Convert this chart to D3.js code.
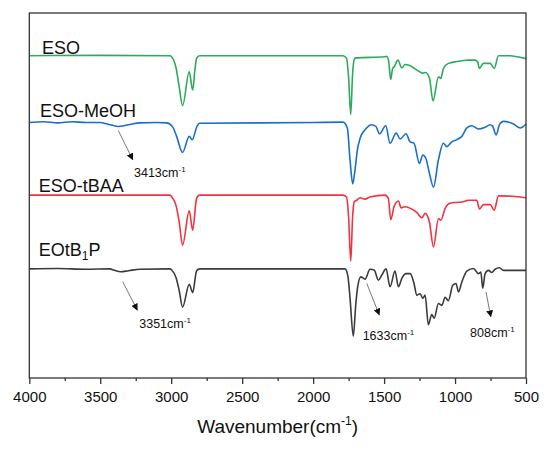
<!DOCTYPE html>
<html>
<head>
<meta charset="utf-8">
<script src="https://cdn.jsdelivr.net/npm/d3@7"></script>
<style>
  body { margin:0; background:#fff; }
  .plot-wrap { width:550px; height:449px; }
  text { font-family: "Liberation Sans", Arial, sans-serif; }
</style>
</head>
<body>
<div class="plot-wrap"></div>
<script>
// ---- data (wavenumber cm-1, relative transmittance a.u.) ----
var seriesNames = ['ESO', 'ESO-MeOH', 'ESO-tBAA', 'EOtB_1P'];
var seriesColors = ['#2eaa5e', '#1a6fcc', '#f2333f', '#3b3b3b'];
var seriesOffsets = [88.3, 70.0, 50.1, 29.9];

var esoData = [
  [4000,0],[3500,0.1],[3010,0],[2997,-0.3],[2965,-3.5],[2944,-8.5],[2920,-13.7],[2873,-4.4],[2849,-9.4],[2832,-3.5],[2821,-0.7],[2800,0],
  [1790,0],[1765,-0.7],[1750,-6],[1735,-16.1],[1722,-5],[1710,-1],[1700,-0.6],[1495,-0.3],[1480,-0.2],[1468,-1.5],[1453,-6.5],
  [1440,-3.5],[1428,-3.0],[1403,-1.2],[1375,-3.3],[1352,-2.4],[1320,-2.7],[1270,-3.9],[1240,-4.6],[1227,-4.8],[1208,-4.6],
  [1180,-6.2],[1155,-12.4],[1117,-5.8],[1100,-6.2],[1082,-3.5],[1047,-2.1],[987,-1.6],[952,-1.4],[906,-1.2],[858,-1.2],
  [840,-1.8],[828,-3.5],[800,-2.1],[753,-2.1],[724,-3.5],[694,0],[611,0],[560,-0.3],[500,-0.8]
];
var esoMeohData = [
  [4000,0],[3900,0.2],[3800,-0.1],[3700,0.2],[3600,0],[3503,0],[3450,-0.4],[3375,-1.1],[3300,-0.6],[3221,-0.1],[3100,0],
  [3032,-0.1],[2990,-1.2],[2962,-3.8],[2920,-8.2],[2873,-3.8],[2852,-4.7],[2818,-1.0],[2800,-0.2],[2000,0],[1790,0.1],
  [1759,-1.5],[1740,-10.2],[1721,-16.8],[1705,-13],[1688,-7.5],[1669,-4.3],[1634,-2.0],[1587,-0.6],[1557,-1.1],[1533,-3.1],
  [1488,-0.9],[1458,-5.7],[1415,-2.9],[1387,-4.5],[1345,-3.1],[1317,-5.3],[1289,-5.7],[1251,-11.2],[1227,-8.9],[1206,-9.8],
  [1181,-13.8],[1152,-17.7],[1117,-10.2],[1082,-5.7],[1058,-6.6],[1023,-5.3],[987,-4.7],[952,-3.8],[917,-1.5],[882,-0.9],
  [835,-1.8],[788,-1.3],[753,-0.6],[735,-1.0],[710,-3.4],[687,-0.6],[659,0.3],[588,-0.4],[541,-1.5],[500,-0.4]
];
var esoTbaaData = [
  [4000,0],[3500,0],[3010,0],[2995,-0.5],[2965,-3],[2944,-7.3],[2920,-13.7],[2873,-4.3],[2849,-9.6],[2821,-0.9],[2800,0],
  [1790,0],[1765,-0.5],[1750,-6],[1735,-18.1],[1722,-6],[1710,-1.8],[1693,-1.4],[1669,-0.7],[1634,-1.1],[1600,-0.5],
  [1493,0],[1470,-0.9],[1453,-6.7],[1430,-3.2],[1399,-1.6],[1380,-3.5],[1352,-3.2],[1317,-3.6],[1270,-4.7],[1234,-6.2],
  [1211,-5.0],[1181,-7.3],[1152,-14.2],[1117,-6.4],[1100,-6.9],[1070,-3.6],[1035,-2.2],[987,-2.0],[952,-1.9],[905,-1.4],
  [847,-1.4],[828,-3.8],[800,-2.6],[753,-2.6],[724,-4.1],[694,-0.2],[600,-0.3],[500,-0.7]
];
var eotb1pData = [
  [4000,0],[3800,0.1],[3600,-0.1],[3432,0],[3400,-0.4],[3357,-0.8],[3300,-0.5],[3221,-0.1],[3010,0],[2997,-0.3],
  [2965,-2.5],[2944,-5.9],[2920,-10.5],[2873,-4.2],[2849,-6.5],[2821,-0.5],[2800,0],[1775,0],[1755,-2],[1740,-8],
  [1717,-18.4],[1700,-10],[1688,-5.4],[1664,-2.2],[1634,-2.8],[1599,-0.1],[1570,-0.3],[1540,-3.1],[1516,-1.7],[1486,0],
  [1458,-4.9],[1423,-0.6],[1399,-4.9],[1375,-2.6],[1345,-1.3],[1317,-1.3],[1289,-4.0],[1270,-7.2],[1246,-6.8],[1227,-8.1],
  [1211,-7.2],[1188,-15.3],[1164,-12.5],[1147,-13.5],[1117,-9.5],[1093,-10],[1070,-7.8],[1047,-8.7],[1016,-4.5],[993,-4.0],
  [976,-6.3],[952,-3.6],[917,-0.6],[870,0.1],[835,-1.3],[818,-0.9],[805,-5.3],[788,-1.3],[765,-0.4],[741,-1.0],[718,-0.1],
  [687,0.3],[659,-0.4],[500,-0.4]
];

var xTicks = [4000, 3500, 3000, 2500, 2000, 1500, 1000, 500];
var xMinorTicks = [3750, 3250, 2750, 2250, 1750, 1250, 750];

// annotations: text, arrow start [wn, au], arrow end [wn, au], text anchor [wn, au]
var annoLabels = ['3413', '3351', '1633', '808'];
var annoFrom = [[3373,67.8],[3342,26.4],[1622,25.9],[782,23.6]];
var annoTo = [[3271,59.8],[3239,18.6],[1534,17.3],[748,16.8]];
var annoText = [[3262,55.2],[3225,13.6],[1651,10.4],[894,11.3]];

var SpectraChart = function(opts){
  this.element = opts.elem;
  this.series = opts.series;
}

SpectraChart.prototype.draw = function(){
  this.margin = {top:13, left:29.3, right:24, bottom:71};
  this.width = 550 - this.margin.left - this.margin.right;
  this.height = 449 - this.margin.top - this.margin.bottom;

  var svg = d3.select(this.element).append('svg')
    .attr('width', 550).attr('height', 449);
  svg.append('defs').append('marker')
    .attr('id', 'arrow').attr('viewBox', '0 0 10 10')
    .attr('refX', 9).attr('refY', 5)
    .attr('markerWidth', 7).attr('markerHeight', 7)
    .attr('markerUnits', 'userSpaceOnUse')
    .attr('orient', 'auto')
    .append('path').attr('d', 'M0,0 L10,5 L0,10 Z').attr('fill', '#111');

  this.plot = svg.append('g')
    .attr('transform', 'translate(' + this.margin.left + ',' + this.margin.top + ')');

  this.createScales();
  this.addLines();
  this.addLabels();
  this.addAnnotations();
  this.addAxis();
}

SpectraChart.prototype.createScales = function(){
  this.xScale = d3.scaleLinear().domain([4000, 500]).range([0, this.width]);
  this.yScale = d3.scaleLinear().domain([0, 100]).range([this.height, 0]);
}

SpectraChart.prototype.addLines = function(){
  var self = this;
  this.series.forEach(function(s){
    var line = d3.line()
      .x(function(d){ return self.xScale(d[0]); })
      .y(function(d){ return self.yScale(s.offset + d[1]); })
      .curve(d3.curveMonotoneX);
    self.plot.append('path')
      .attr('d', line(s.data))
      .attr('fill', 'none')
      .attr('stroke', s.color)
      .attr('stroke-width', 1.6)
      .attr('stroke-linejoin', 'round');
  });
}

SpectraChart.prototype.addLabels = function(){
  var self = this;
  var dx = [12.7, 10.7, 9.4, 9.4];
  var dy = [-1.7, -5.4, -2.7, -12.7];
  this.series.forEach(function(s, i){
    var t = self.plot.append('text')
      .attr('x', dx[i])
      .attr('y', self.yScale(s.offset) + dy[i])
      .attr('font-size', '18px')
      .attr('fill', '#111');
    var parts = s.name.split('_');
    t.append('tspan').text(parts[0]);
    if (parts.length > 1) {
      t.append('tspan').attr('font-size', '12px').attr('dy', 4).text(parts[1].charAt(0));
      t.append('tspan').attr('dy', -4).text(parts[1].slice(1));
    }
  });
}

SpectraChart.prototype.addAnnotations = function(){
  var self = this;
  annoLabels.forEach(function(lbl, i){
    self.plot.append('line')
      .attr('x1', self.xScale(annoFrom[i][0])).attr('y1', self.yScale(annoFrom[i][1]))
      .attr('x2', self.xScale(annoTo[i][0])).attr('y2', self.yScale(annoTo[i][1]))
      .attr('stroke', '#555').attr('stroke-width', 0.8)
      .attr('marker-end', 'url(#arrow)');
    var t = self.plot.append('text')
      .attr('x', self.xScale(annoText[i][0]))
      .attr('y', self.yScale(annoText[i][1]))
      .attr('font-size', '12.5px')
      .attr('fill', '#111');
    t.append('tspan').text(lbl + 'cm');
    t.append('tspan').attr('font-size', '8px').attr('dy', -5).text('-1');
  });
}

SpectraChart.prototype.addAxis = function(){
  var self = this;
  // frame
  this.plot.append('rect')
    .attr('x', 0).attr('y', 0)
    .attr('width', this.width).attr('height', this.height)
    .attr('fill', 'none').attr('stroke', '#333').attr('stroke-width', 1.3);

  var xAxis = d3.axisBottom(this.xScale)
    .tickValues(xTicks)
    .tickFormat(d3.format('d'))
    .tickSize(6).tickSizeOuter(0).tickPadding(7);
  var gx = this.plot.append('g')
    .attr('transform', 'translate(0,' + this.height + ')')
    .call(xAxis);
  gx.select('.domain').remove();
  gx.selectAll('.tick line').attr('stroke', '#333').attr('stroke-width', 1.3);
  gx.selectAll('.tick text')
    .attr('font-size', '15px').attr('fill', '#111')
    .attr('font-family', '"Liberation Sans", Arial, sans-serif');

  var minor = d3.axisBottom(this.xScale)
    .tickValues(xMinorTicks).tickSize(3).tickFormat('');
  var gm = this.plot.append('g')
    .attr('transform', 'translate(0,' + this.height + ')')
    .call(minor);
  gm.select('.domain').remove();
  gm.selectAll('.tick line').attr('stroke', '#333').attr('stroke-width', 1.3);

  var title = this.plot.append('text')
    .attr('x', this.width / 2)
    .attr('y', this.height + 55)
    .attr('text-anchor', 'middle')
    .attr('font-size', '19px')
    .attr('fill', '#111');
  title.append('tspan').text('Wavenumber(cm');
  title.append('tspan').attr('font-size', '12px').attr('dy', -8).text('-1');
  title.append('tspan').attr('dy', 8).text(')');
}

var chart = new SpectraChart({
  elem: document.querySelector('.plot-wrap'),
  series: [
    {name: seriesNames[0], color: seriesColors[0], offset: seriesOffsets[0], data: esoData},
    {name: seriesNames[1], color: seriesColors[1], offset: seriesOffsets[1], data: esoMeohData},
    {name: seriesNames[2], color: seriesColors[2], offset: seriesOffsets[2], data: esoTbaaData},
    {name: seriesNames[3], color: seriesColors[3], offset: seriesOffsets[3], data: eotb1pData}
  ]
});
chart.draw();
</script>
</body>
</html>
